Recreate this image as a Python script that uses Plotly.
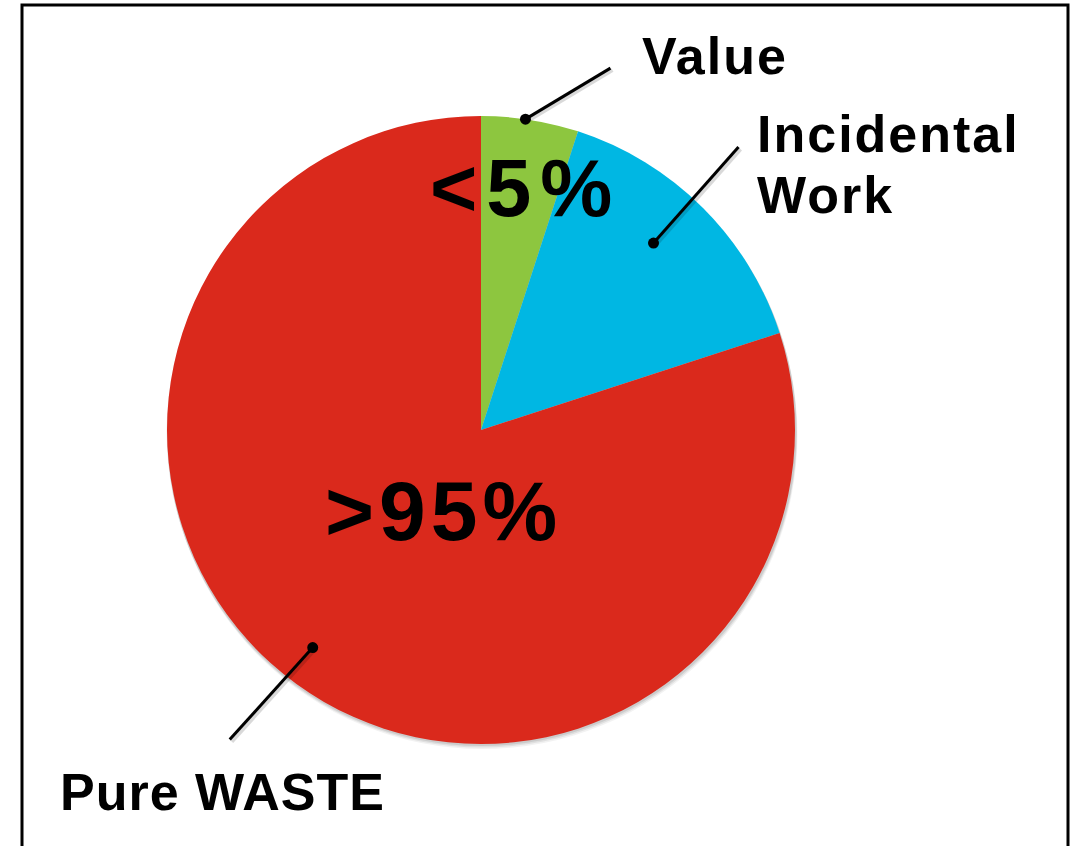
import math
import plotly.graph_objects as go

# ---- data ----
labels = ["Value", "Incidental Work", "Pure WASTE"]
values = [5, 15, 80]
colors = ["#8DC63F", "#00B7E3", "#DA291C"]
label_lines = [["Value"], ["Incidental", "Work"], ["Pure WASTE"]]
big_texts = ["<5%", ">95%"]

W, H = 1081, 846
cx, cy, R = 481, 430, 314

fig = go.Figure()
fig.add_trace(go.Pie(
    labels=labels, values=values, sort=False, direction="clockwise", rotation=0,
    marker=dict(colors=colors, line=dict(width=0)),
    textinfo="none", hoverinfo="label+percent", showlegend=False,
    domain=dict(x=[(cx - R) / W, (cx + R) / W], y=[(H - cy - R) / H, (H - cy + R) / H]),
))

# invisible pixel-space axes for annotations
fig.add_trace(go.Scatter(x=[0, W], y=[0, H], mode="markers", marker=dict(opacity=0),
                         showlegend=False, hoverinfo="skip"))

# soft shadow under the pie
for k, a in [(5, 0.05), (3.5, 0.07), (2, 0.09)]:
    fig.add_shape(type="circle", x0=cx - R - 1 + k * 0.3, x1=cx + R + 1 + k * 0.3,
                  y0=cy - R + k, y1=cy + R + k, layer="below",
                  fillcolor=f"rgba(0,0,0,{a})", line=dict(width=0), xref="x", yref="y")

# leader dots from slice mid angles
total = sum(values)
cum = 0
mids = []
for v in values:
    mids.append((cum + v / 2) / total * 2 * math.pi)
    cum += v
rfac = [1.0, 0.81, 0.876]
ang_shift = [-0.015, -0.04, 0.03]
offs = [(85, -51), (85, -96), (-83, 92)]
for m, f, s, o in zip(mids, rfac, ang_shift, offs):
    a = m + s
    px = cx + R * f * math.sin(a)
    py = cy - R * f * math.cos(a)
    fig.add_shape(type="line", x0=px + 2, y0=py + 2, x1=px + o[0] + 2, y1=py + o[1] + 2,
                  line=dict(color="rgba(0,0,0,0.15)", width=4), xref="x", yref="y")
    fig.add_shape(type="line", x0=px, y0=py, x1=px + o[0], y1=py + o[1],
                  line=dict(color="black", width=3), xref="x", yref="y")
    fig.add_shape(type="circle", x0=px - 5.5, x1=px + 5.5, y0=py - 5.5, y1=py + 5.5,
                  fillcolor="black", line=dict(width=0), xref="x", yref="y")


def spaced(t, px):
    return f'<span style="letter-spacing:{px}px">{t}</span>'


fnt = dict(family="Liberation Sans, Arial, sans-serif", color="black", weight=700)
lab_pos = [[(640, 56)], [(755, 134), (755, 195)], [(58, 792)]]
lab_sp = [2, 2, 1]
for lines, poss, sp in zip(label_lines, lab_pos, lab_sp):
    for t, (x, y) in zip(lines, poss):
        fig.add_annotation(x=x, y=y, xref="x", yref="y", text=spaced(t, sp), showarrow=False,
                           xanchor="left", yanchor="middle", align="left",
                           font=dict(size=52, **fnt))
fig.add_annotation(x=525, y=188, xref="x", yref="y", text=spaced(big_texts[0], 9), showarrow=False,
                   xanchor="center", yanchor="middle", font=dict(size=81, **fnt))
fig.add_annotation(x=443, y=511, xref="x", yref="y", text=spaced(big_texts[1], 5), showarrow=False,
                   xanchor="center", yanchor="middle", font=dict(size=84, **fnt))

# frame
fig.add_shape(type="rect", x0=22, x1=1068, y0=5, y1=860, xref="x", yref="y",
              line=dict(color="black", width=3))

fig.update_layout(
    width=W, height=H, margin=dict(l=0, r=0, t=0, b=0),
    paper_bgcolor="white", plot_bgcolor="rgba(0,0,0,0)",
    xaxis=dict(range=[0, W], visible=False, domain=[0, 1], fixedrange=True),
    yaxis=dict(range=[H, 0], visible=False, domain=[0, 1], fixedrange=True),
    showlegend=False,
)
fig.write_html("out.html", config={"displayModeBar": False},
               post_script="document.body.style.margin='0';document.body.style.overflow='hidden';")
